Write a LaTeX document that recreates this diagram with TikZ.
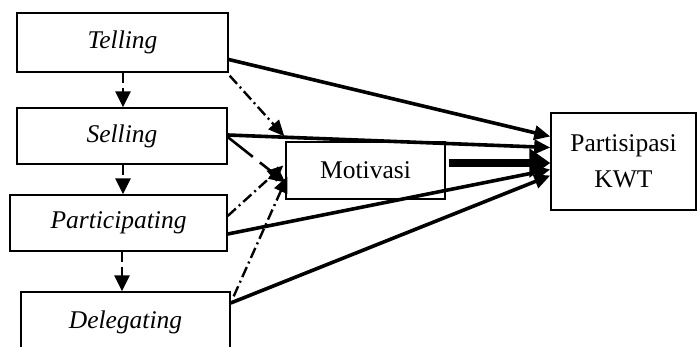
\documentclass[tikz,border=0pt]{standalone}
\usepackage{fontspec}
\setmainfont{Liberation Serif}
\usetikzlibrary{arrows.meta,calc}
\tikzset{
  box/.style={draw, line width=1.4pt, rectangle, inner sep=0pt, font=\fontsize{25.5}{30}\selectfont},
  solidarr/.style={line width=3.6pt, -{Triangle[length=16pt 0 0,width=14pt 0 0]}},
  thickarr/.style={line width=8pt, -{Triangle[length=21pt 0 0,width=28pt 0 0]}},
  dasharr/.style={line width=2.6pt, dash pattern=on 10pt off 5pt, -{Triangle[length=16pt 0 0,width=15pt 0 0]}},
  dotarr/.style={line width=2.4pt, dash pattern=on 11pt off 4pt on 2pt off 4pt, -{Triangle[length=16pt 0 0,width=14pt 0 0]}},
}
\begin{document}
\begin{tikzpicture}[x=1pt,y=-1pt]
\useasboundingbox (0,0) rectangle (697,347);
\node[box, minimum width=211pt, minimum height=59pt] (tel) at (122.5,42.5) {\itshape Telling};
\node[box, minimum width=210pt, minimum height=56pt] (sel) at (122,136) {\itshape Selling};
\node[box, minimum width=217pt, minimum height=56pt] (par) at (118.5,223) {\itshape Participating};
\node[box, minimum width=209pt, minimum height=60pt] (del) at (125.5,322) {\itshape Delegating};
\node[box, minimum width=159pt, minimum height=57pt] (mot) at (365.5,170.5) {Motivasi};
\node[box, minimum width=145pt, minimum height=97pt, align=center, font=\fontsize{25.5}{36}\selectfont] (kwt) at (623.5,161.5) {Partisipasi\\KWT};

% solid arrows to KWT
\draw[solidarr] ([yshift=-17pt]tel.east) -- ([yshift=25pt]kwt.west);
\draw[solidarr] ([yshift=1pt]sel.east) -- ([yshift=14pt]kwt.west);
\draw[thickarr] ([xshift=3pt,yshift=7.5pt]mot.east) -- ([yshift=-1.5pt]kwt.west);
\draw[solidarr] ([yshift=-11pt]par.east) -- ([yshift=-8pt]kwt.west);
\draw[solidarr] ([yshift=19pt]del.east) -- ([yshift=-14pt]kwt.west);

% vertical dashed arrows
\draw[dasharr] ([xshift=0.5pt]tel.south) -- ([xshift=1pt]sel.north);
\draw[dasharr] ([xshift=1pt]sel.south) -- ([xshift=4.5pt]par.north);
\draw[dasharr] ([xshift=3.5pt]par.south) -- ([xshift=-3.5pt]del.north);

% arrows to Motivasi
\draw[dotarr] ([xshift=1pt,yshift=-3pt]tel.south east) -- ([xshift=-1pt,yshift=5pt]mot.north west);
\draw[dasharr, dash pattern=on 32pt off 9pt] ([yshift=-1pt]sel.east) -- ([yshift=-12pt]mot.west);
\draw[dotarr] ([yshift=7pt]par.east) -- ([xshift=-2pt,yshift=5pt]mot.west);
\draw[dotarr] ([xshift=3pt,yshift=-5pt]del.north east) -- ([xshift=2pt,yshift=-6pt]mot.west);
\end{tikzpicture}
\end{document}
